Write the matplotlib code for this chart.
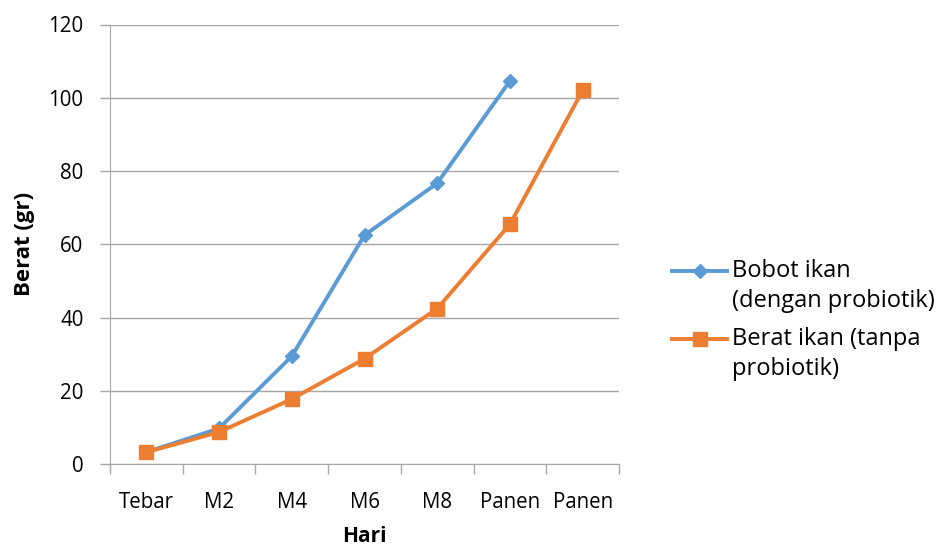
import matplotlib
matplotlib.use("Agg")
import matplotlib.pyplot as plt
from matplotlib.lines import Line2D
import numpy as np

categories = ["Tebar", "M2", "M4", "M6", "M8", "Panen", "Panen"]
blue_vals = [3.3, 9.8, 29.5, 62.5, 76.7, 104.6]
orange_vals = [3.3, 8.8, 17.8, 28.8, 42.5, 65.5, 102.0]
blue_label = "Bobot ikan\n(dengan probiotik)"
orange_label = "Berat ikan (tanpa\nprobiotik)"

plt.rcParams['font.family'] = ['Open Sans', 'DejaVu Sans']

W, H = 936, 549
fig = plt.figure(figsize=(W/100, H/100), dpi=100)
ax = fig.add_axes([110/W, 1-464.3/H, 509/W, (464.3-24.5)/H])

x = np.arange(len(categories))
bx = x[:len(blue_vals)]
blue_style = dict(color='#5B9BD5', lw=2.8, marker='D', ms=7.5)
orange_style = dict(color='#ED7D31', lw=2.8, marker='s', ms=10.5)
ax.plot(bx, blue_vals, zorder=3, **blue_style)
ax.plot(x, orange_vals, zorder=3, **orange_style)

ax.set_xlim(-0.5, len(categories)-0.5)
ax.set_ylim(0, 120)
ax.set_yticks(np.arange(0, 121, 20))
ax.set_xticks(x)
ax.set_xticklabels(categories)
ax.set_xticks(np.arange(-0.5, len(categories), 1.0), minor=True)
ax.tick_params(axis='x', which='major', length=0, pad=20, labelsize=14.8)
ax.tick_params(axis='x', which='minor', length=7, color='#A6A6A6', width=1)
ax.tick_params(axis='y', length=7, color='#A6A6A6', width=1, labelsize=14.8, pad=12)
ax.grid(axis='y', color='#A6A6A6', lw=1, zorder=0)
for s in ['top', 'right']:
    ax.spines[s].set_visible(False)
for s in ['left', 'bottom']:
    ax.spines[s].set_color('#A6A6A6')
ax.set_axisbelow(True)

ax.set_ylabel("Berat (gr)", fontsize=16, fontweight='bold', labelpad=10)
ax.set_xlabel("Hari", fontsize=15, fontweight='bold', labelpad=9)

# Legend drawn in figure pixel coordinates (handles aligned with first text line)
def legend_entry(y_first, label, style):
    fy = 1 - y_first/H
    ln = Line2D([672/W, 727/W], [fy, fy], transform=fig.transFigure,
                color=style['color'], lw=style['lw'])
    mk = Line2D([699.5/W], [fy], transform=fig.transFigure, color=style['color'],
                marker=style['marker'], ms=style['ms'], lw=0)
    fig.add_artist(ln)
    fig.add_artist(mk)
    fig.text(732/W, 1 - (y_first + 15)/H, label, fontsize=17, va='center', ha='left',
             linespacing=1.3)

legend_entry(271, blue_label, blue_style)
legend_entry(339, orange_label, orange_style)

fig.savefig("out.png", dpi=100)
